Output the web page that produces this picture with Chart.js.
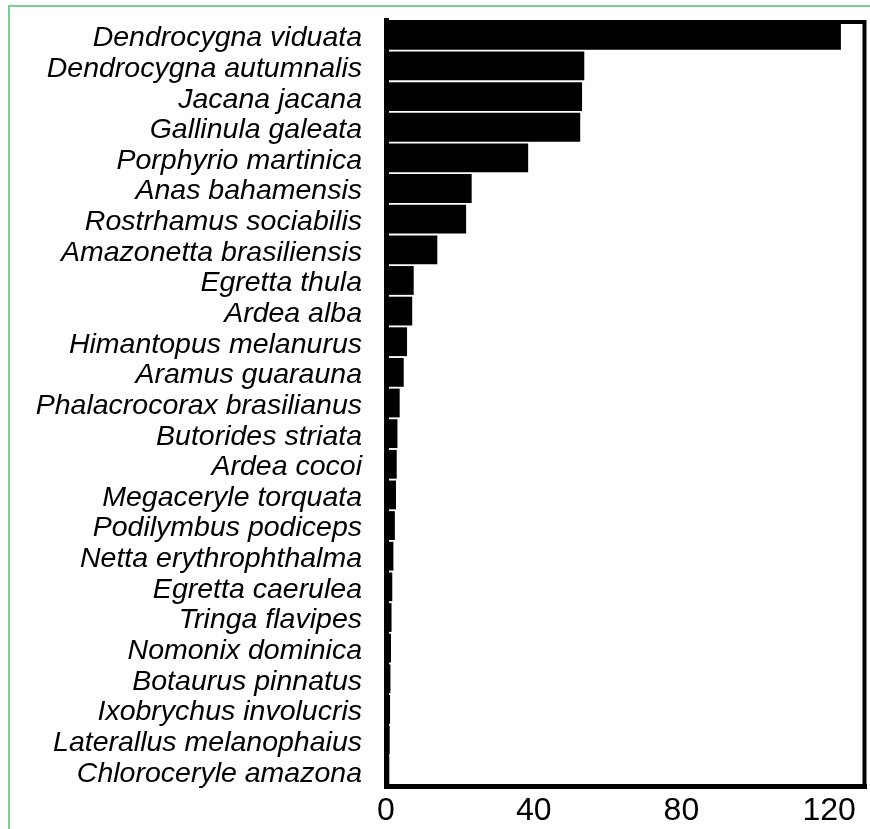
<!DOCTYPE html>
<html>
<head>
<meta charset="utf-8">
<script src="https://cdn.jsdelivr.net/npm/chart.js@4.4.1/dist/chart.umd.min.js"></script>
<style>
  html, body { margin: 0; padding: 0; background: #ffffff; }
  #wrap { width: 870px; height: 829px; position: relative; }
</style>
</head>
<body>
<div id="wrap"><canvas id="c" width="870" height="829"></canvas></div>
<script>
// Bird species, ordered by abundance
const species = [
  "Dendrocygna viduata",
  "Dendrocygna autumnalis",
  "Jacana jacana",
  "Gallinula galeata",
  "Porphyrio martinica",
  "Anas bahamensis",
  "Rostrhamus sociabilis",
  "Amazonetta brasiliensis",
  "Egretta thula",
  "Ardea alba",
  "Himantopus melanurus",
  "Aramus guarauna",
  "Phalacrocorax brasilianus",
  "Butorides striata",
  "Ardea cocoi",
  "Megaceryle torquata",
  "Podilymbus podiceps",
  "Netta erythrophthalma",
  "Egretta caerulea",
  "Tringa flavipes",
  "Nomonix dominica",
  "Botaurus pinnatus",
  "Ixobrychus involucris",
  "Laterallus melanophaius",
  "Chloroceryle amazona"
];

// Abundance per species
const counts = [
  123.2, 53.7, 53.1, 52.6, 38.5, 23.2, 21.7, 13.9, 7.5, 7.1,
  5.7, 4.8, 3.7, 3.1, 2.9, 2.7, 2.4, 2.0, 1.7, 1.5,
  1.35, 1.2, 1.1, 1.0, 0.9
];

// Axis tick values
const xTicks = [0, 40, 80, 120];
const xMax = 130;

// Frame: thin lines on top and right, plus the green outer box
const framePlugin = {
  id: 'frame',
  beforeDraw(chart) {
    const ctx = chart.ctx;
    ctx.save();
    ctx.fillStyle = '#ffffff';
    ctx.fillRect(0, 0, chart.width, chart.height);
    ctx.strokeStyle = '#7ccf93';
    ctx.lineWidth = 2;
    ctx.strokeRect(9, 6, chart.width + 20, chart.height + 20);
    ctx.restore();
  },
  afterDraw(chart) {
    const a = chart.chartArea;
    const ctx = chart.ctx;
    ctx.save();
    ctx.strokeStyle = '#000000';
    ctx.lineWidth = 4;
    ctx.beginPath();
    ctx.moveTo(a.left, a.top + 2);
    ctx.lineTo(a.right - 1.5, a.top + 2);
    ctx.lineTo(a.right - 1.5, a.bottom);
    ctx.stroke();
    ctx.restore();
  }
};

new Chart(document.getElementById('c'), {
  type: 'bar',
  data: {
    labels: species,
    datasets: [{
      data: counts,
      backgroundColor: '#000000',
      borderWidth: 0,
      barPercentage: 0.94,
      categoryPercentage: 1.0
    }]
  },
  options: {
    indexAxis: 'y',
    responsive: false,
    animation: false,
    devicePixelRatio: 1,
    layout: { padding: { left: 0, right: 4, top: 20, bottom: 0 } },
    plugins: {
      legend: { display: false },
      tooltip: { enabled: false }
    },
    scales: {
      x: {
        min: 0,
        max: xMax,
        afterBuildTicks(scale) {
          scale.ticks = xTicks.map(v => ({ value: v }));
        },
        afterFit(scale) { scale.height = 43; },
        grid: { display: false, drawTicks: false },
        border: { display: true, width: 5, color: '#000000' },
        ticks: {
          padding: 6,
          color: '#000000',
          font: { family: 'Liberation Sans', size: 32 }
        }
      },
      y: {
        afterFit(scale) {
          scale.width = 386;
          scale.paddingTop = 0;
          scale.paddingBottom = 0;
        },
        grid: { display: false, drawTicks: false },
        border: { display: true, width: 5, color: '#000000' },
        ticks: {
          padding: 24,
          labelOffset: 3,
          color: '#000000',
          autoSkip: false,
          font: { family: 'Liberation Sans', size: 28.5, style: 'italic' }
        }
      }
    }
  },
  plugins: [framePlugin]
});
</script>
</body>
</html>
